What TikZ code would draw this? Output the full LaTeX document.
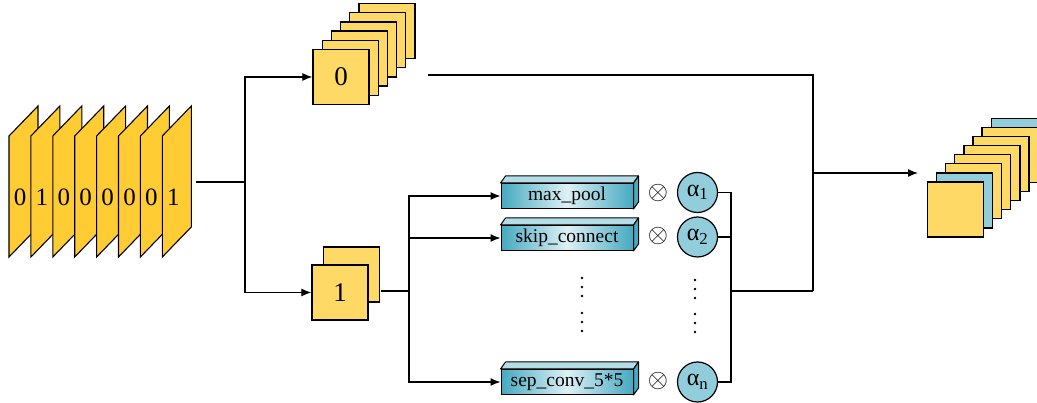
\RequirePackage{fix-cm}
\documentclass[tikz,border=0pt]{standalone}
\usepackage{fontspec}
\setmainfont{Liberation Serif}
\usetikzlibrary{arrows.meta}
\definecolor{gold}{HTML}{FFCC33}
\definecolor{sqy}{HTML}{FFD966}
\definecolor{sqb}{HTML}{92CDDC}
\definecolor{tealdark}{HTML}{45A9C0}
\definecolor{teallight}{HTML}{DDF0F5}
\definecolor{tealtop}{HTML}{B4DDE7}
\begin{document}
\begin{tikzpicture}[x=1pt,y=-1pt,
  panel/.style={draw=black, fill=gold, line join=miter, line width=1.1pt},
  digit/.style={font=\fontsize{25}{28}\selectfont, inner sep=0pt},
  sq/.style={draw=black, fill=sqy, minimum width=56pt, minimum height=55pt, inner sep=0pt, line width=1.3pt, font=\fontsize{27}{30}\selectfont},
  opbox/.style={draw=black, line width=1pt, left color=tealdark, right color=tealdark, middle color=teallight, minimum width=132pt, minimum height=25pt, inner sep=0pt, font=\fontsize{19.5}{22}\selectfont},
  facetop/.style={draw=black, line width=1pt, fill=tealtop, line join=round},
  faceside/.style={draw=black, line width=1pt, fill=tealdark, line join=round},
  wt/.style={circle, draw=black, line width=1.2pt, fill=sqb, minimum size=40pt, inner sep=0pt, font=\fontsize{24}{27}\selectfont},
  otim/.style={inner sep=0pt, font=\fontsize{26}{28}\selectfont},
  conn/.style={line width=1.2pt},
  arr/.style={conn, -{Latex[length=10pt,width=8pt]}},
]
\useasboundingbox (0,0) rectangle (1037,403);

% input stack of parallelograms
\foreach \i/\d in {0/0,1/1,2/0,3/0,4/0,5/0,6/0,7/1}{
  \pgfmathsetmacro\L{9+21.9*\i}
  \draw[panel] (\L,257) -- (\L,136) -- (\L+29,106) -- (\L+29,227) -- cycle;
  \node[digit] (d\i) at (\L+11,197) {\d};
}

% top stack (0)
\foreach \k in {5,4,3,2,1}{
  \node[sq] (z\k) at (341+9.2*\k, 77-9.2*\k) {};
}
\node[sq] (z0) at (341,77) {0};

% bottom stack (1)
\node[sq] (o1b) at (351.5,274.5) {};
\node[sq] (o1) at (340,292.5) {1};

% output stack
\foreach \k/\c in {7/sqb,6/sqy,5/sqy,4/sqy,3/sqy,2/sqy,1/sqb}{
  \node[sq, fill=\c] (r\k) at (955.5+9.1*\k, 209.5-9.1*\k) {};
}
\node[sq] (r0) at (955.5,209.5) {};

% operation blocks
\foreach \n/\y/\t in {b1/196/max\_pool, b2/238/skip\_connect, b3/382/sep\_conv\_5*5}{
  \node[opbox] (\n) at (567,\y) {\t};
  \draw[facetop] (\n.north west) -- ++(5,-7) -- ([shift={(5,-7)}]\n.north east) -- (\n.north east) -- cycle;
  \draw[faceside] (\n.north east) -- ++(5,-7) -- ([shift={(5,-7)}]\n.south east) -- (\n.south east) -- cycle;
}

% otimes
\node[otim] (x1) at (658,193) {$\otimes$};
\node[otim] (x2) at (658,236) {$\otimes$};
\node[otim] (x3) at (658,381) {$\otimes$};

% weights
\node[wt] (a1) at (697.5,192.5) {α\textsubscript{1}};
\node[wt] (a2) at (697.5,237) {α\textsubscript{2}};
\node[wt] (an) at (697.5,382) {α\textsubscript{n}};

% vertical dots
\foreach \y in {278,287,296,313,322,331}{ \fill (582,\y) circle (1.3pt); }
\foreach \y in {280,289,298,314,323,332}{ \fill (695,\y) circle (1.3pt); }

% connectors
\coordinate (inR) at (196,182);
\coordinate (j1) at (245,182);
\draw[conn] (inR) -- (j1);
\draw[arr] (j1) |- (z0.west);
\draw[arr] (j1) |- (o1.west);

\coordinate (o1out) at (381,291);
\coordinate (oj) at (409,291);
\draw[conn] (o1out) -- (oj);
\draw[arr] (oj) |- (b1.west);
\draw[arr] (oj) |- (b2.west);
\draw[arr] (oj) |- (b3.west);

\coordinate (am) at (731,291);
\draw[conn] (a1.east) -| (am);
\draw[conn] (a2.east) -| (am);
\draw[conn] (an.east) -| (am);

\coordinate (topout) at (428,75);
\coordinate (jr) at (813,291);
\coordinate (jm) at (813,173);
\coordinate (rin) at (918,173);
\draw[conn] (topout) -| (jr);
\draw[conn] (am) -- (jr);
\draw[arr] (jm) -- (rin);
\end{tikzpicture}
\end{document}
